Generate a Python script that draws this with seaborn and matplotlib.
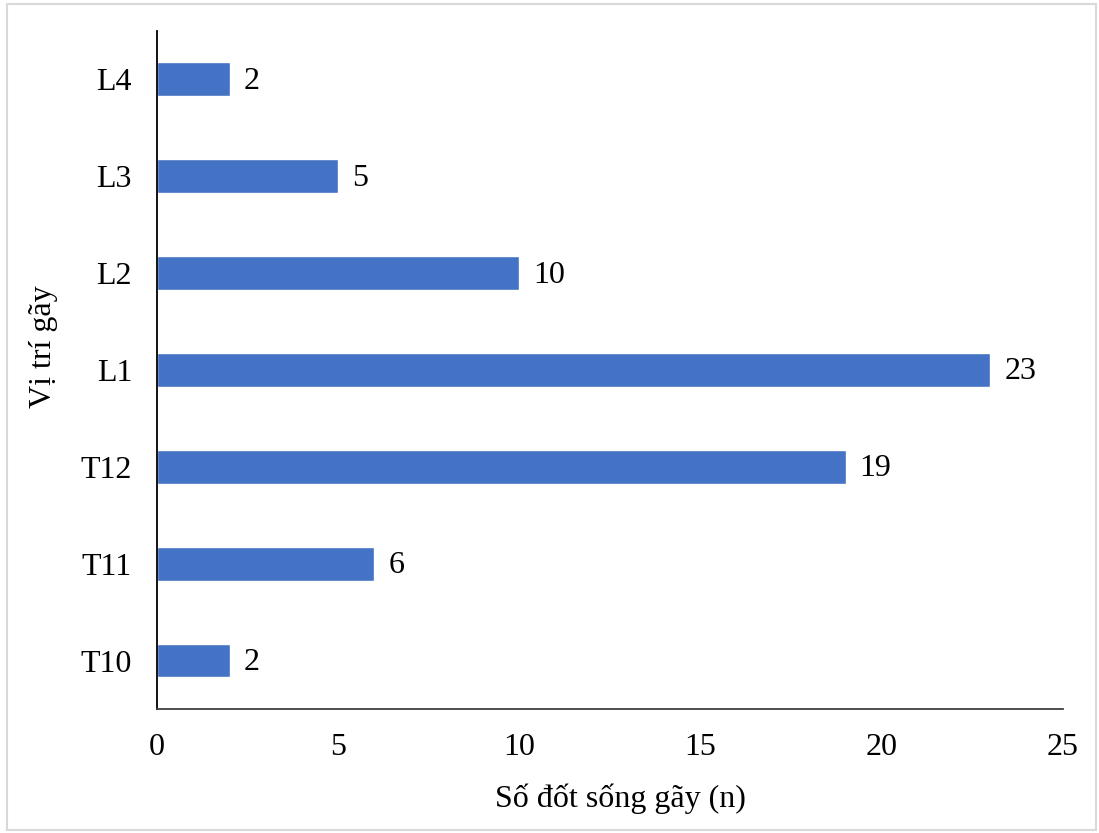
import matplotlib
matplotlib.use("Agg")
import matplotlib.pyplot as plt
import seaborn as sns
import pandas as pd
from matplotlib.patches import Rectangle

# Fracture counts by vertebral level (top to bottom)
levels = ["L4", "L3", "L2", "L1", "T12", "T11", "T10"]
counts = [2, 5, 10, 23, 19, 6, 2]

x_ticks = [0, 5, 10, 15, 20, 25]

df = pd.DataFrame({"level": levels, "count": counts})

sns.set_theme(style="white")
plt.rcParams["font.family"] = ["Liberation Serif", "DejaVu Serif"]

FS = 23

fig = plt.figure(figsize=(10.99, 8.33), dpi=100)
ax = fig.add_axes([0.1429, 0.1489, 0.8243, 0.8139])

sns.barplot(data=df, x="count", y="level", order=levels, color="#4472C4",
            saturation=1, width=0.35, ax=ax)

for p, v in zip(ax.patches, counts):
    ax.annotate(str(v), (p.get_width(), p.get_y() + p.get_height() / 2),
                xytext=(14, -2), textcoords="offset pixels",
                va="center", ha="left", fontsize=FS, color="black")

ax.set_xlim(0, 25)
ax.set_ylim(6.5, -0.5)
ax.set_xticks(x_ticks)
ax.set_xticklabels([str(t) for t in x_ticks])
ax.tick_params(axis="both", length=0, labelsize=FS, colors="black")
ax.tick_params(axis="x", pad=17)
ax.tick_params(axis="y", pad=18)

ax.set_xlabel("Số đốt sống gãy (n)", fontsize=FS, color="black", labelpad=16)
ax.set_ylabel("Vị trí gãy", fontsize=FS, color="black", labelpad=16)
ax.xaxis.label.set_x(0.511)
ax.yaxis.label.set_y(0.534)

for side in ["top", "right"]:
    ax.spines[side].set_visible(False)
ax.spines["left"].set_color("black")
ax.spines["bottom"].set_color("#404040")
ax.spines["left"].set_linewidth(1.3)
ax.spines["bottom"].set_linewidth(1.3)

# Light frame around the whole figure
fig.patches.append(Rectangle((7 / 1099, 3 / 833), 1089 / 1099, 826 / 833,
                             transform=fig.transFigure, fill=False,
                             edgecolor="#d9d9d9", linewidth=1.5))

fig.savefig("out.png", dpi=100)
